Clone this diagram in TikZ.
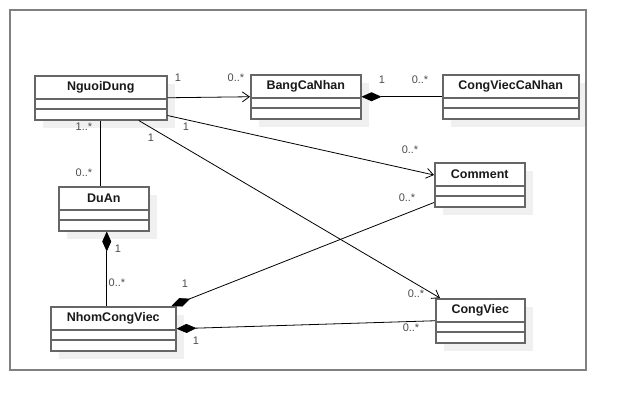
\documentclass[tikz,border=0pt]{standalone}
\usepackage{fontspec}
\setmainfont{Liberation Sans}
\usetikzlibrary{arrows.meta, calc, shadows}
\definecolor{boxgray}{HTML}{666666}
\definecolor{framegray}{HTML}{808080}
\tikzset{
    umlclass/.style={
           rectangle,
           draw=boxgray, line width=1.5pt,
           fill=white,
           minimum height=44pt,
           inner sep=0pt,
           anchor=north west,
           drop shadow={shadow xshift=8pt, shadow yshift=-8pt,
                        fill=black!6, opacity=1},
           },
    classname/.style={
           font=\fontsize{12.5}{14}\selectfont\bfseries,
           text=black!90,
           inner sep=0pt,
           },
    mult/.style={
           font=\fontsize{11}{13}\selectfont,
           text=black!70,
           inner sep=0pt,
           },
    assoc/.style={-{Straight Barb[length=7pt,width=10pt]}, line width=0.8pt},
    compose/.style={{Diamond[length=20pt,width=9pt]}-, line width=0.8pt},
    link/.style={-, line width=0.8pt},
}

\begin{document}
\begin{tikzpicture}[x=1pt, y=-1pt]

 \useasboundingbox (0,0) rectangle (626,410);

 % classes
 \node[umlclass, minimum width=132pt] (NGUOI_DUNG) at (34,75) {};
 \node[umlclass, minimum width=110pt] (BANG_CA_NHAN) at (250,74) {};
 \node[umlclass, minimum width=136pt] (CONG_VIEC_CA_NHAN) at (442,74) {};
 \node[umlclass, minimum width=90pt] (DU_AN) at (58,186) {};
 \node[umlclass, minimum width=90pt] (COMMENT) at (434,162) {};
 \node[umlclass, minimum width=125pt] (NHOM_CONG_VIEC) at (50,306) {};
 \node[umlclass, minimum width=89pt] (CONG_VIEC) at (435,298) {};

 \foreach \cls/\name in {NGUOI_DUNG/NguoiDung, BANG_CA_NHAN/BangCaNhan,
   CONG_VIEC_CA_NHAN/CongViecCaNhan, DU_AN/DuAn, COMMENT/Comment,
   NHOM_CONG_VIEC/NhomCongViec, CONG_VIEC/CongViec}
 {
  \node[classname] (\cls_NAME) at ($(\cls.north)+(0,12)$) {\name};
  \draw[boxgray, line width=1.5pt]
   ($(\cls.north west)+(0,24)$) -- ($(\cls.north east)+(0,24)$)
   ($(\cls.north west)+(0,34)$) -- ($(\cls.north east)+(0,34)$);
 }

 % connectors
 \coordinate (DU_AN_OUT) at ($(DU_AN.south)+(3,0)$);

 \path (NGUOI_DUNG.east) edge[assoc] (BANG_CA_NHAN.west);
 \path (BANG_CA_NHAN.east) edge[compose] (CONG_VIEC_CA_NHAN.west);
 \path ($(NGUOI_DUNG.south east)+(0,-5)$) edge[assoc] ($(COMMENT.north west)+(0,13)$);
 \path ($(NGUOI_DUNG.south)+(38,0)$) edge[assoc] ($(CONG_VIEC.north west)+(5,0)$);
 \path (NGUOI_DUNG.south) edge[link] (NGUOI_DUNG.south |- DU_AN.north);
 \path (DU_AN_OUT) edge[compose] (DU_AN_OUT |- NHOM_CONG_VIEC.north);
 \path ($(NHOM_CONG_VIEC.north east)+(-5,0)$) edge[compose] ($(COMMENT.south west)+(0,-5)$);
 \path (NHOM_CONG_VIEC.east) edge[compose] (CONG_VIEC.west);

 % multiplicities
 \node[mult] (M_ND_B) at (178,78) {1};
 \node[mult] (M_B_ND) at (236,78) {0..*};
 \node[mult] (M_B_CV) at (382,80) {1};
 \node[mult] (M_CV_B) at (420,80) {0..*};
 \node[mult] (M_ND_DA) at (84,127) {1..*};
 \node[mult] (M_DA_ND) at (84,173) {0..*};
 \node[mult] (M_ND_CM) at (186,127) {1};
 \node[mult] (M_CM_ND) at (410,150) {0..*};
 \node[mult] (M_ND_CG) at (151,138) {1};
 \node[mult] (M_CG_ND) at (416,294) {0..*};
 \node[mult] (M_DA_NH) at (118,249) {1};
 \node[mult] (M_NH_DA) at (117,283) {0..*};
 \node[mult] (M_NH_CM) at (185,284) {1};
 \node[mult] (M_CM_NH) at (407,198) {0..*};
 \node[mult] (M_NH_CG) at (196,341) {1};
 \node[mult] (M_CG_NH) at (411,328) {0..*};

 % frame
 \draw[framegray, line width=1.8pt] (10,10) rectangle (586,370);

\end{tikzpicture}
\end{document}
